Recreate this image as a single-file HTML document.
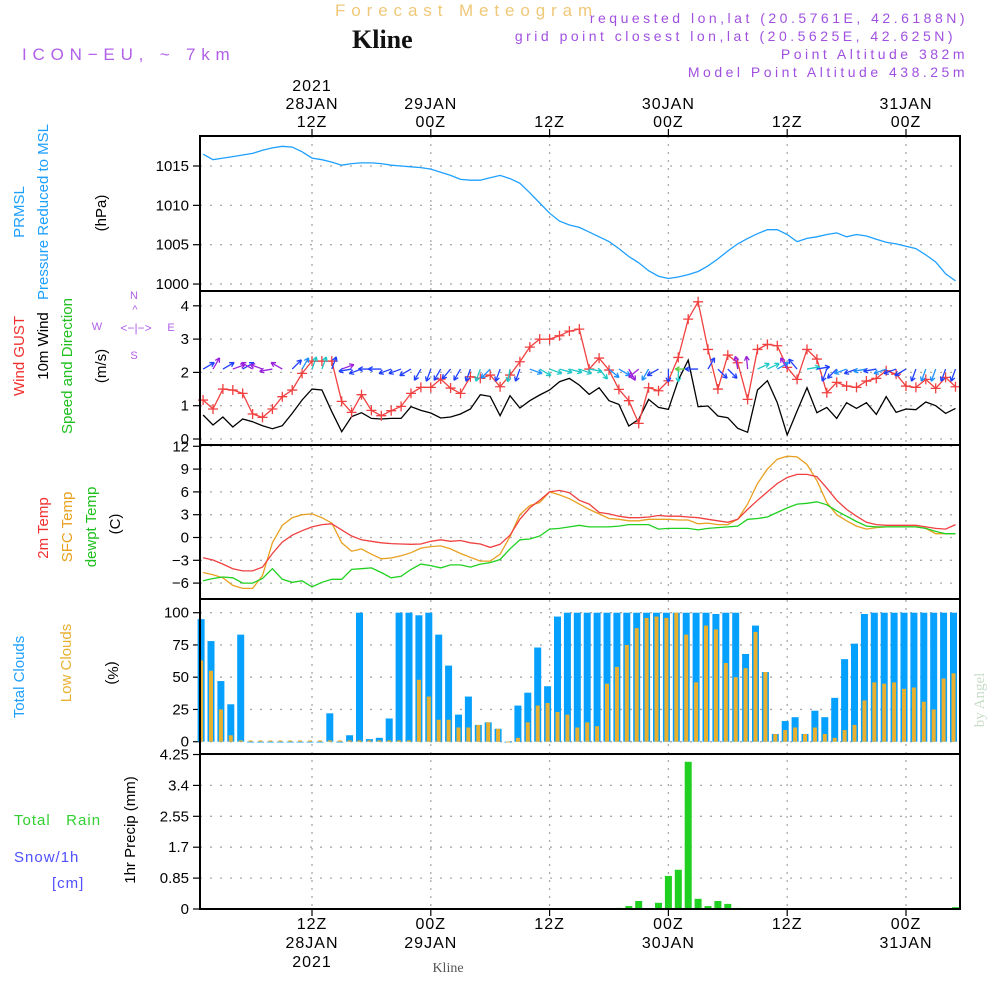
<!DOCTYPE html>
<html><head><meta charset="utf-8">
<style>
html,body{margin:0;padding:0;background:#fff;}
svg{display:block;font-family:"Liberation Sans",sans-serif;}
</style></head>
<body>
<svg id="chart" width="1000" height="1000" viewBox="0 0 1000 1000" xmlns="http://www.w3.org/2000/svg">
<text x="335" y="16" font-size="17" fill="#f0c878" letter-spacing="5.9">Forecast Meteogram</text>
<text x="352" y="48" font-size="26" font-weight="bold" font-family="Liberation Serif,serif" fill="#111">Kline</text>
<text x="22" y="60" font-size="17" fill="#b060e8" letter-spacing="5.8">ICON−EU, ~ 7km</text>
<g font-size="14" fill="#a050e0" text-anchor="end" letter-spacing="3.5">
<text x="968" y="23">requested lon,lat (20.5761E, 42.6188N)</text>
<text x="956" y="41">grid point closest lon,lat (20.5625E, 42.625N)</text>
<text x="968" y="59">Point Altitude 382m</text>
<text x="968" y="77">Model Point Altitude 438.25m</text>
</g>
<g id="left-labels">
<text transform="translate(24,212) rotate(-90)" text-anchor="middle" font-size="15" fill="#1ea0ff">PRMSL</text>
<text transform="translate(48,212) rotate(-90)" text-anchor="middle" font-size="15" fill="#1ea0ff">Pressure Reduced to MSL</text>
<text transform="translate(106,213) rotate(-90)" text-anchor="middle" font-size="15" fill="#000">(hPa)</text>
<text transform="translate(24,356) rotate(-90)" text-anchor="middle" font-size="15" fill="#f03030">Wind GUST</text>
<text transform="translate(48,346) rotate(-90)" text-anchor="middle" font-size="15" fill="#000">10m Wind</text>
<text transform="translate(72,366) rotate(-90)" text-anchor="middle" font-size="15" fill="#20c020">Speed and Direction</text>
<text transform="translate(106,366) rotate(-90)" text-anchor="middle" font-size="15" fill="#000">(m/s)</text>
<g fill="#b060e8" font-size="11">
<text x="134" y="299" text-anchor="middle">N</text><text x="134" y="359" text-anchor="middle">S</text>
<text x="97" y="330" text-anchor="middle">W</text><text x="171" y="331" text-anchor="middle">E</text>
<text x="136" y="332" text-anchor="middle" font-size="12">&lt;−|−&gt;</text>
<text x="135" y="313" text-anchor="middle" font-size="11">^</text>
</g>
<text transform="translate(48,528) rotate(-90)" text-anchor="middle" font-size="15" fill="#f03030">2m Temp</text>
<text transform="translate(72,527) rotate(-90)" text-anchor="middle" font-size="15" fill="#e8a020">SFC Temp</text>
<text transform="translate(96,527) rotate(-90)" text-anchor="middle" font-size="15" fill="#20c020">dewpt Temp</text>
<text transform="translate(120,524) rotate(-90)" text-anchor="middle" font-size="15" fill="#000">(C)</text>
<text transform="translate(24,677) rotate(-90)" text-anchor="middle" font-size="15" fill="#1ea0ff">Total Clouds</text>
<text transform="translate(71,663) rotate(-90)" text-anchor="middle" font-size="15" fill="#e8b030">Low Clouds</text>
<text transform="translate(108,673) rotate(90)" text-anchor="middle" font-size="15" fill="#000">(%)</text>
<text x="14" y="825" font-size="15" fill="#30d030" letter-spacing="1">Total&#160;&#160;&#160;Rain</text>
<text x="14" y="862" font-size="15" fill="#5050ff" letter-spacing="1">Snow/1h</text>
<text x="52" y="888" font-size="15" fill="#5050ff" letter-spacing="1">[cm]</text>
<text transform="translate(135,830) rotate(-90)" text-anchor="middle" font-size="15" fill="#000">1hr Precip (mm)</text>
<text transform="translate(984,700) rotate(-90)" text-anchor="middle" font-size="15" font-family="Liberation Serif,serif" fill="#c8dcc8">by Angel</text>
<text x="448" y="972" text-anchor="middle" font-size="14" font-family="Liberation Serif,serif" fill="#555">Kline</text>
</g>
<g id="plot"></g>
</svg>
<script>
// ---------- data (hourly, 01Z 28JAN .. 05Z 31JAN) ----------
const hours = Array.from({length:77},(_,i)=>i+1);
const pressure = [1016.5,1015.8,1016.0,1016.2,1016.4,1016.6,1017.0,1017.3,1017.5,1017.4,1016.8,1016.0,1015.8,1015.5,1015.1,1015.3,1015.4,1015.4,1015.3,1015.1,1015.0,1014.9,1014.8,1014.6,1014.2,1013.8,1013.3,1013.2,1013.2,1013.5,1013.8,1013.4,1012.8,1011.6,1010.3,1009.0,1008.0,1007.5,1007.2,1006.6,1006.0,1005.4,1004.5,1003.5,1002.7,1001.7,1001.0,1000.7,1000.9,1001.2,1001.6,1002.3,1003.2,1004.2,1005.1,1005.8,1006.4,1006.9,1006.9,1006.3,1005.4,1005.8,1006.0,1006.3,1006.5,1006.0,1006.3,1006.1,1005.7,1005.3,1005.1,1004.8,1004.5,1003.7,1002.8,1001.3,1000.4];
const wind10m = [0.72,0.42,0.66,0.36,0.6,0.52,0.4,0.31,0.4,0.77,1.17,1.5,1.47,0.82,0.22,0.67,0.79,0.62,0.6,0.62,0.62,0.97,0.86,0.78,0.63,0.66,0.75,0.9,1.33,1.28,0.7,1.3,0.93,1.15,1.32,1.47,1.72,1.82,1.62,1.34,1.54,1.15,1.04,0.39,0.59,1.19,0.95,0.89,1.77,2.37,0.97,0.99,0.69,0.64,0.32,0.2,1.47,1.75,1.09,0.12,0.84,1.54,0.79,0.95,0.62,1.09,0.92,1.09,0.74,1.27,0.8,0.9,0.88,1.11,1.0,0.77,0.92];
const gust = [1.17,0.9,1.5,1.47,1.37,0.75,0.65,0.9,1.27,1.47,1.97,2.34,2.34,2.34,1.13,0.8,1.33,0.86,0.7,0.85,0.98,1.37,1.55,1.55,1.8,1.53,1.37,1.87,1.82,1.92,1.57,1.92,2.32,2.76,3.0,3.0,3.1,3.24,3.3,2.1,2.43,2.07,1.49,1.15,0.47,1.54,1.45,1.75,2.45,3.6,4.12,2.69,1.5,2.52,2.29,1.19,2.69,2.84,2.8,2.15,1.79,2.69,2.4,1.39,1.7,1.59,1.55,1.74,1.82,2.05,1.95,1.59,1.55,1.79,1.52,1.85,1.57];
const windDir = [30,60,30,20,30,150,160,190,150,45,60,70,70,70,20,190,200,180,180,200,200,210,240,250,240,230,240,250,250,225,250,260,250,-20,-30,-20,-15,-15,-20,-10,-50,-40,-30,-60,220,240,210,270,270,180,180,60,-45,-45,100,95,25,25,30,120,130,10,10,250,225,200,200,190,190,200,200,210,250,250,250,250,250];
const temp2m = [-2.66,-2.96,-3.5,-4.1,-4.4,-4.4,-3.9,-2.1,-0.6,0.3,0.9,1.4,1.7,1.8,1.0,0.2,-0.3,-0.5,-0.7,-0.8,-0.85,-0.9,-0.85,-0.5,-0.3,-0.5,-0.4,-0.7,-0.85,-1.3,-0.9,0.3,2.4,3.9,4.9,6.0,6.2,5.9,4.9,4.4,3.3,3.1,2.8,2.6,2.6,2.7,2.9,2.8,2.8,2.7,2.6,2.4,2.2,2.0,2.4,3.7,4.9,6.0,7.1,7.9,8.3,8.3,8.0,6.5,4.9,3.7,2.8,2.0,1.7,1.6,1.6,1.6,1.6,1.4,1.2,1.1,1.7];
const sfcTemp = [-4.6,-4.9,-5.3,-6.3,-6.7,-6.7,-5.0,-0.7,1.6,2.6,3.0,3.1,2.6,1.9,-0.7,-1.8,-1.5,-2.2,-2.8,-2.7,-2.4,-2.0,-1.4,-1.2,-1.1,-1.5,-2.1,-2.6,-3.1,-3.1,-2.2,0.1,3.0,4.2,4.6,6.0,5.6,5.1,4.4,3.7,3.1,2.5,2.4,2.2,2.2,2.4,2.4,2.4,2.3,2.3,1.8,1.9,1.7,1.7,2.4,4.4,7.1,9.0,10.3,10.7,10.6,9.6,7.5,4.6,3.0,2.2,1.5,1.1,1.3,1.4,1.4,1.4,1.4,1.2,0.5,0.5,0.5];
const dewpt = [-5.7,-5.4,-5.2,-5.3,-6.0,-6.0,-5.4,-4.1,-5.5,-5.9,-5.7,-6.5,-5.9,-5.5,-5.5,-4.2,-4.1,-4.0,-4.6,-5.3,-5.1,-4.2,-3.5,-3.7,-4.0,-3.6,-3.6,-3.9,-3.5,-3.3,-2.9,-1.5,-0.3,-0.2,0.2,1.1,1.2,1.4,1.6,1.4,1.4,1.4,1.5,1.7,1.7,1.7,1.1,1.2,1.2,1.2,1.0,1.2,1.3,1.4,1.5,2.4,2.5,2.7,3.3,3.9,4.4,4.5,4.7,4.3,3.5,2.8,2.1,1.5,1.4,1.4,1.4,1.4,1.4,1.2,0.8,0.5,0.5];
const totalClouds = [95,78,47,29,83,0,0,0,0,0,0,0,0,22,0,5,100,2,3,18,100,100,98,100,83,59,21,35,13,15,10,0,28,38,73,43,97,100,100,100,100,100,100,100,100,100,100,100,100,100,100,100,99,100,100,68,90,54,6,16,19,6,24,19,34,64,76,99,100,100,100,100,100,100,100,100,100];
const lowClouds = [63,55,25,5,1,1,1,1,1,1,1,1,1,1,1,1,1,1,1,1,1,1,48,35,17,17,11,11,13,15,10,0,3,15,28,30,23,21,11,15,12,45,58,75,88,96,97,96,100,83,46,90,87,61,50,57,85,54,6,9,11,6,11,6,3,9,13,32,46,45,46,41,42,31,25,49,53];
const precip = [0,0,0,0,0,0,0,0,0,0,0,0,0,0,0,0,0,0,0,0,0,0,0,0,0,0,0,0,0,0,0,0,0,0,0,0,0,0,0,0,0,0,0.03,0.08,0.22,0,0.17,0.91,1.08,4.05,0.28,0.08,0.22,0.14,0.03,0,0,0,0,0,0,0,0,0,0,0,0,0,0,0,0,0,0,0,0,0,0.05];
const pTicks = [1000,1005,1010,1015];
const wTicks = [0,1,2,3,4];
const tTicks = [-6,-3,0,3,6,9,12];
const cTicks = [0,25,50,75,100];
const rTicks = [0,0.85,1.7,2.55,3.4,4.25];
const timeTicks = [12,24,36,48,60,72];
const topLabels = [["2021","28JAN","12Z"],["29JAN","00Z"],["12Z"],["30JAN","00Z"],["12Z"],["31JAN","00Z"]];
const bottomLabels = [["12Z","28JAN","2021"],["00Z","29JAN"],["12Z"],["00Z","30JAN"],["12Z"],["00Z","31JAN"]];

// ---------- axes ----------
const X0=200,X1=960;
const xH = h => 312 + (h-12)*9.9;
const panels = {
  p:{top:136,bot:291,y:v=>166+(1015-v)*7.87},
  w:{top:291,bot:445,y:v=>439-v*33.3},
  t:{top:445,bot:599,y:v=>537.5-v*7.6},
  c:{top:599,bot:754,y:v=>741.7-v*1.29},
  r:{top:754,bot:909,y:v=>909-v*36.35}
};
const NS="http://www.w3.org/2000/svg";
const plot=document.getElementById('plot');
function mk(tag,attrs,parent){const e=document.createElementNS(NS,tag);for(const k in attrs)e.setAttribute(k,attrs[k]);(parent||plot).appendChild(e);return e;}

function yAxis(p,ticks,fmt){
  ticks.forEach(v=>{
    const y=p.y(v);
    const g=mk('line',{x1:X0,x2:X1,y1:y,y2:y,stroke:'#aaa','stroke-width':1.3,'stroke-dasharray':'2,8'});
    
    
    const tk=mk('line',{x1:193,x2:X0,y1:y,y2:y,stroke:'#000','stroke-width':1.2});
    
    
    const t=mk('text',{x:189,y:y+5,'text-anchor':'end','font-size':15,fill:'#000'});
    t.textContent=fmt?fmt(v):String(v);
    
    
  });
}
yAxis(panels.p,pTicks);yAxis(panels.w,wTicks);yAxis(panels.t,tTicks,v=>v<0?'−'+(-v):String(v));yAxis(panels.c,cTicks);yAxis(panels.r,rTicks);
timeTicks.forEach((h,i)=>{
  const x=xH(h);
  const g=mk('line',{x1:x,x2:x,y1:136,y2:909,stroke:'#aaa','stroke-width':1.3,'stroke-dasharray':'2,6'});
  
  
  const tk=mk('line',{x1:x,x2:x,y1:129,y2:136,stroke:'#000','stroke-width':1.2});
  
  
  const tb=mk('line',{x1:x,x2:x,y1:909,y2:916,stroke:'#000','stroke-width':1.2});
  
  
  const lt=topLabels[i];
  lt.forEach((s,j)=>{const t=mk('text',{x:x,y:127-(lt.length-1-j)*18,'text-anchor':'middle','font-size':16,fill:'#000','letter-spacing':1});t.textContent=s;
    
    });
  bottomLabels[i].forEach((s,j)=>{const t=mk('text',{x:x,y:929+j*19,'text-anchor':'middle','font-size':16,fill:'#000','letter-spacing':1});t.textContent=s;
    
    });
});

function line(arr,p,color,name,w){
  const d=arr.map((v,i)=>(i?'L':'M')+xH(hours[i]).toFixed(1)+','+p.y(v).toFixed(1)).join('');
  const e=mk('path',{d:d,fill:'none',stroke:color,'stroke-width':w||1.3});
  
  
  return e;
}
line(pressure,panels.p,'#1ea0ff','pressure-line');
line(wind10m,panels.w,'#000','wind-10m-line');
line(gust,panels.w,'#f04040','gust-line');
gust.forEach((v,i)=>{
  const x=xH(hours[i]),y=panels.w.y(v);
  const m=mk('path',{d:`M${x-5},${y}H${x+5}M${x},${y-5}V${y+5}`,stroke:'#f04040','stroke-width':1.3});
  
  
});
function windColor(s){return s<0.6?'#9a22dd':s<1.0?'#2040ff':s<1.3?'#1e90ff':s<1.9?'#20c8c8':'#60d040';}
windDir.forEach((d,i)=>{
  const x=xH(hours[i]),y=panels.w.y(2.1),L=13,r=d*Math.PI/180;
  const ex=x+L*Math.cos(r),ey=y-L*Math.sin(r);
  const a1=r+Math.PI-0.5,a2=r+Math.PI+0.5;
  const c=windColor(wind10m[i]);
  const e=mk('path',{d:`M${x},${y}L${ex},${ey}M${ex},${ey}L${ex+5*Math.cos(a1)},${ey-5*Math.sin(a1)}M${ex},${ey}L${ex+5*Math.cos(a2)},${ey-5*Math.sin(a2)}`,stroke:c,'stroke-width':1.3,fill:'none'});
  
  
});
line(sfcTemp,panels.t,'#e8a020','sfc-temp-line');
line(temp2m,panels.t,'#f04040','temp-2m-line');
line(dewpt,panels.t,'#20d020','dewpoint-line');
totalClouds.forEach((v,i)=>{
  const x=xH(hours[i])-2,y=panels.c.y(v);
  const b=mk('rect',{x:x-3.5,y:y,width:7,height:Math.max(0.8,panels.c.y(0)-y),fill:'#06a0ff'});
  
  
});
lowClouds.forEach((v,i)=>{
  const x=xH(hours[i])-2,y=panels.c.y(v);
  const b=mk('rect',{x:x-2,y:y,width:4,height:Math.max(0.8,panels.c.y(0)-y),fill:'#e8b030'});
  
  
});
precip.forEach((v,i)=>{
  if(v<=0)return;
  const x=xH(hours[i]),y=panels.r.y(v);
  const b=mk('rect',{x:x-3.5,y:y,width:7,height:panels.r.y(0)-y,fill:'#20d020'});
  
  
});
Object.keys(panels).forEach(k=>{
  const p=panels[k];
  const f=mk('rect',{x:X0,y:p.top,width:X1-X0,height:p.bot-p.top,fill:'none',stroke:'#000','stroke-width':2});
  
  
});
</script>
</body></html>
